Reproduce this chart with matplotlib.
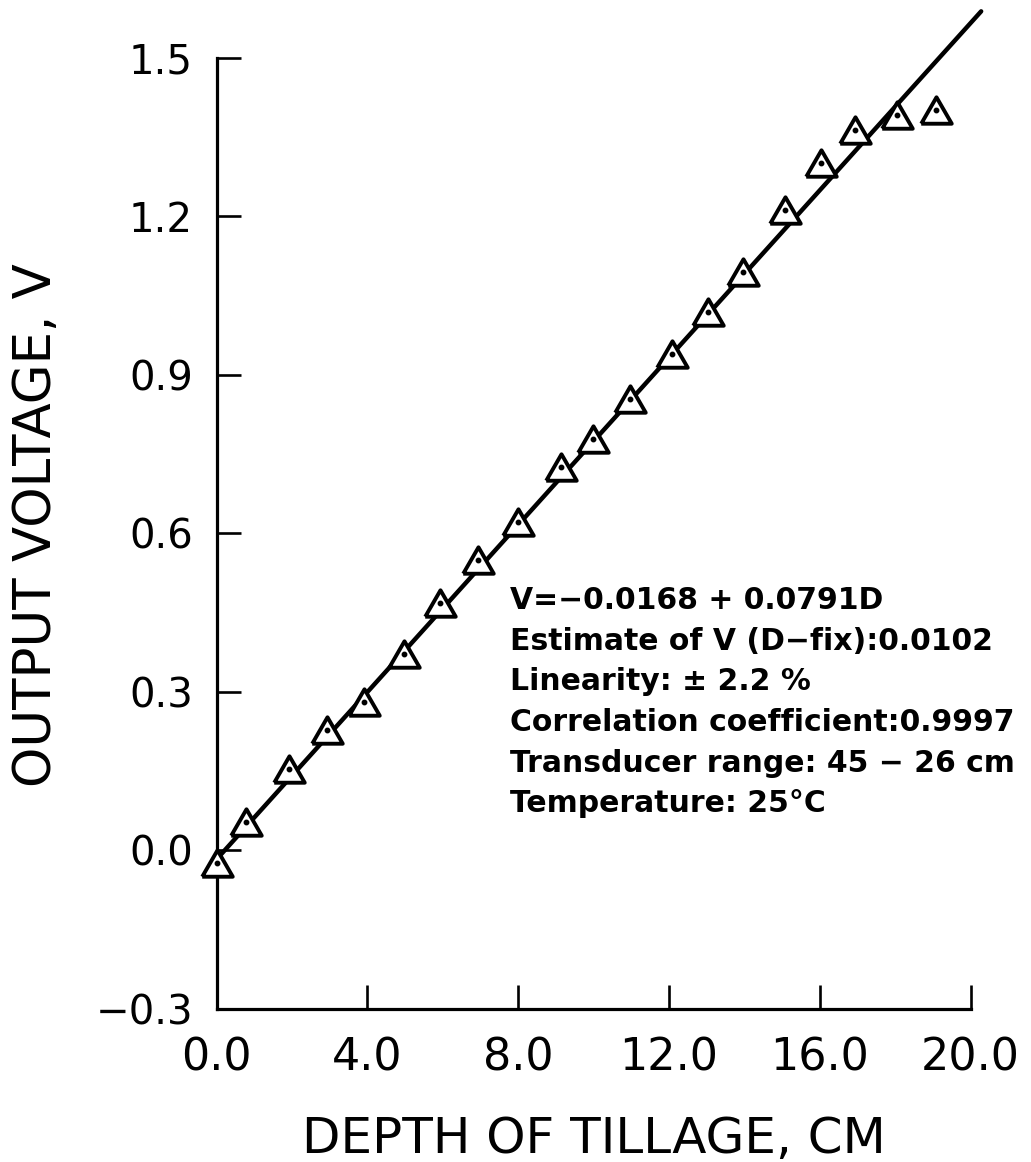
import matplotlib
matplotlib.use("Agg")
import matplotlib.pyplot as plt
import numpy as np

# ---- data ----
depth = [0.0, 0.77, 1.93, 2.94, 3.90, 4.97, 5.93, 6.93, 8.00, 9.13,
         9.98, 10.97, 12.07, 13.03, 13.96, 15.08, 16.03, 16.94, 18.05, 19.08]
voltage = [-0.023, 0.054, 0.154, 0.227, 0.280, 0.372, 0.468, 0.550, 0.622, 0.725,
           0.778, 0.854, 0.940, 1.018, 1.095, 1.212, 1.301, 1.363, 1.391, 1.401]

fit_intercept = -0.0168
fit_slope = 0.0791
fit_x = [0.0, 20.28]

x_ticks = [0.0, 4.0, 8.0, 12.0, 16.0, 20.0]
x_ticklabels = ["0.0", "4.0", "8.0", "12.0", "16.0", "20.0"]
y_ticks = [-0.3, 0.0, 0.3, 0.6, 0.9, 1.2, 1.5]
y_ticklabels = ["\u22120.3", "0.0", "0.3", "0.6", "0.9", "1.2", "1.5"]

annotation_lines = [
    "V=\u22120.0168 + 0.0791D",
    "Estimate of V (D\u2212fix):0.0102",
    "Linearity: \u00b1 2.2 %",
    "Correlation coefficient:0.9997",
    "Transducer range: 45 \u2212 26 cm",
    "Temperature: 25\u00b0C",
]

xlabel = "DEPTH OF TILLAGE, CM"
ylabel = "OUTPUT VOLTAGE, V"

# ---- figure ----
W, H = 1031, 1162
fig = plt.figure(figsize=(W / 100, H / 100), dpi=100)
ax_left, ax_right, ax_top, ax_bottom = 216.6, 970.6, 57.5, 1009.0
ax = fig.add_axes([ax_left / W, 1 - ax_bottom / H,
                   (ax_right - ax_left) / W, (ax_bottom - ax_top) / H])

ax.set_xlim(0, 20)
ax.set_ylim(-0.3, 1.5)

fx = np.array(fit_x)
ax.plot(fx, fit_intercept + fit_slope * fx, color="black", lw=3.2,
        solid_capstyle="round", clip_on=False, zorder=2)

tri = [(-1, -0.866), (1, -0.866), (0, 0.866), (-1, -0.866)]
ax.plot(depth, voltage, linestyle="none", marker=tri, ms=22,
        mfc="white", mec="black", mew=2.8, clip_on=False, zorder=3)
ax.plot(depth, voltage, linestyle="none", marker="o", ms=3.2,
        color="black", clip_on=False, zorder=4)

for s in ["top", "right"]:
    ax.spines[s].set_visible(False)
for s in ["left", "bottom"]:
    ax.spines[s].set_linewidth(2.3)

ax.set_xticks(x_ticks)
ax.set_xticklabels(x_ticklabels, fontsize=32, family="DejaVu Sans")
ax.set_yticks(y_ticks)
ax.set_yticklabels(y_ticklabels, fontsize=29, family="DejaVu Sans")
ax.tick_params(axis="both", direction="in", length=17, width=1.9)
ax.tick_params(axis="x", pad=20)
ax.tick_params(axis="y", pad=17)

ax.set_xlabel(xlabel, fontsize=36, family=["Liberation Sans Narrow", "DejaVu Sans"],
              va="center", ha="center")
ax.xaxis.set_label_coords(0.5, (ax_bottom - 1139) / (ax_bottom - ax_top))
ax.set_ylabel(ylabel, fontsize=37, family="DejaVu Sans", va="center", ha="center")
ax.yaxis.set_label_coords((37 - ax_left) / (ax_right - ax_left),
                          (ax_bottom - 525) / (ax_bottom - ax_top))

baselines = [609, 650, 690, 731, 772, 812]
for txt, b in zip(annotation_lines, baselines):
    ax.text((510 - ax_left) / (ax_right - ax_left), (ax_bottom - b) / (ax_bottom - ax_top),
            txt, transform=ax.transAxes, fontsize=21.5, family="DejaVu Sans",
            fontweight="bold", ha="left", va="baseline")

fig.savefig("out.png", dpi=100, facecolor="white")
